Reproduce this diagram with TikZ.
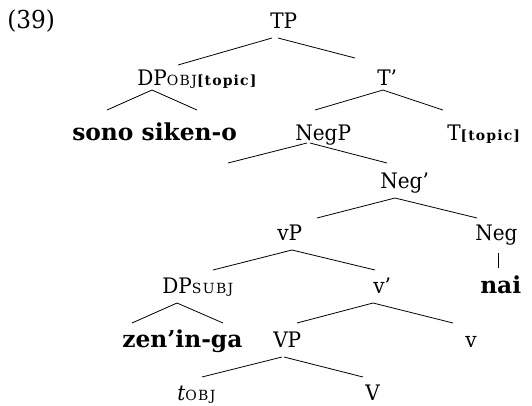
\documentclass[tikz,border=0pt]{standalone}
\usepackage{fontspec}
\setmainfont{DejaVu Serif}[FakeStretch=0.94]
\newfontfamily\bfw{DejaVu Serif Bold}
\newfontfamily\subrm{DejaVu Serif}[LetterSpace=10]
\newfontfamily\subbf{DejaVu Serif Bold}[LetterSpace=8]
\newcommand{\sbr}[1]{{\fontsize{10.5}{12}\subrm #1}}
\newcommand{\sbb}[1]{{\fontsize{10.5}{12}\subbf #1}}
\newcommand{\bword}[1]{{\fontsize{17.5}{20}\bfw #1}}
\begin{document}
\begin{tikzpicture}[x=0.75pt,y=-0.75pt,
  every node/.style={inner sep=0pt, anchor=base west, font=\fontsize{16}{19}\selectfont},
  br/.style={line width=0.6pt}]
\useasboundingbox (0,0) rectangle (532,405);
% nodes
\node[font=\fontsize{18.5}{21}\selectfont] (ex) at (7,28) {(39)};
\node (TP) at (270,28) {TP};
\node (DPo) at (137,85) {DP\sbr{OBJ}\sbb{[topic]}};
\node (Tb) at (377,85) {T’};
\node (sono) at (72,140) {\bword{sono siken-o}};
\node (NegP) at (295,140) {NegP};
\node (Tt) at (447,140) {T\sbb{[topic]}};
\node (Negb) at (380,188) {Neg’};
\node (vP) at (277,240) {vP};
\node (Neg) at (475,240) {Neg};
\node (DPs) at (162,293) {DP\sbr{SUBJ}};
\node (vb) at (373,293) {v’};
\node (nai) at (480,293) {\bword{nai}};
\node (zen) at (122,347) {\bword{zen’in-ga}};
\node (VP) at (273,347) {VP};
\node (v) at (465,347) {v};
\node (t) at (177,400) {\textit{t}\sbr{OBJ}};
\node (V) at (365,400) {V};
\coordinate (spec) at (228,163);
% branches
\draw[br] ([shift={(2,10)}]TP.base west) -- ([shift={(41,-20)}]DPo.base west);
\draw[br] ([shift={(8,10)}]TP.base west) -- ([shift={(-22,-27)}]Tb.base west);
\draw[br] ([shift={(15,5)}]DPo.base west) -- ([shift={(35,-30)}]sono.base west);
\draw[br] ([shift={(15,5)}]DPo.base west) -- ([shift={(125,-30)}]sono.base west);
\draw[br] ([shift={(6,5)}]Tb.base west) -- ([shift={(20,-30)}]NegP.base west);
\draw[br] ([shift={(6,5)}]Tb.base west) -- ([shift={(-4,-30)}]Tt.base west);
\draw[br] ([shift={(12,3)}]NegP.base west) -- (spec);
\draw[br] ([shift={(15,3)}]NegP.base west) -- ([shift={(7,-25)}]Negb.base west);
\draw[br] ([shift={(15,10)}]Negb.base west) -- ([shift={(40,-22)}]vP.base west);
\draw[br] ([shift={(15,10)}]Negb.base west) -- ([shift={(2,-22)}]Neg.base west);
\draw[br] ([shift={(15,10)}]vP.base west) -- ([shift={(51,-23)}]DPs.base west);
\draw[br] ([shift={(15,10)}]vP.base west) -- ([shift={(2,-23)}]vb.base west);
\draw[br] ([shift={(23,13)}]Neg.base west) -- ([shift={(18,-25)}]nai.base west);
\draw[br] ([shift={(15,10)}]DPs.base west) -- ([shift={(10,-24)}]zen.base west);
\draw[br] ([shift={(15,10)}]DPs.base west) -- ([shift={(101,-24)}]zen.base west);
\draw[br] ([shift={(0,10)}]vb.base west) -- ([shift={(24,-24)}]VP.base west);
\draw[br] ([shift={(0,10)}]vb.base west) -- ([shift={(-12,-24)}]v.base west);
\draw[br] ([shift={(9,10)}]VP.base west) -- ([shift={(25,-23)}]t.base west);
\draw[br] ([shift={(11,10)}]VP.base west) -- ([shift={(-2,-23)}]V.base west);
\end{tikzpicture}
\end{document}
